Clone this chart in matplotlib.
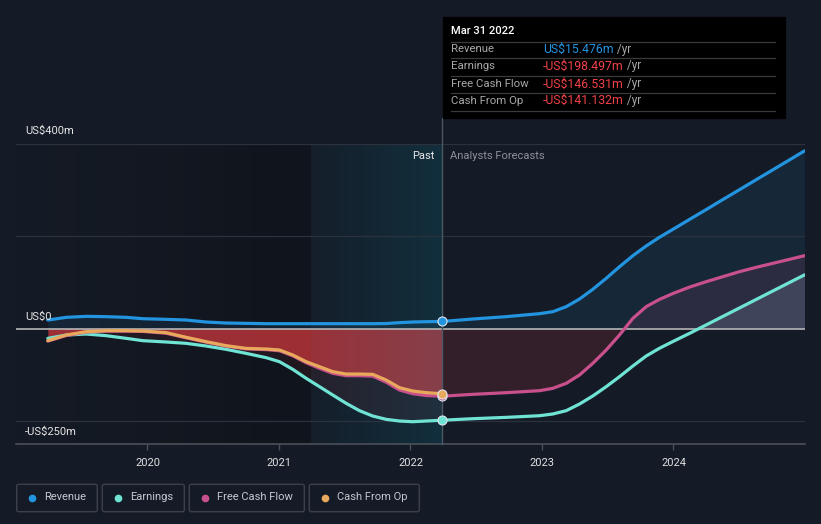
import numpy as np
import matplotlib.pyplot as plt
from matplotlib.colors import to_rgb
from matplotlib.patches import Rectangle, FancyBboxPatch

plt.rcParams['font.family'] = ['Roboto', 'DejaVu Sans']

# data (US$ m)
past_x = [2019.242, 2019.382, 2019.534, 2019.686, 2019.838, 2019.964, 2020.142, 2020.294,
          2020.446, 2020.598, 2020.750, 2020.903, 2021.004, 2021.105, 2021.207, 2021.308,
          2021.409, 2021.511, 2021.612, 2021.713, 2021.815, 2021.916, 2022.017, 2022.119,
          2022.24]
revenue_past = [18.6, 24.4, 26.6, 25.9, 24.4, 21.5, 20.1, 18.6,
                14.3, 12.1, 11.4, 10.7, 10.7, 10.7, 10.7, 10.7,
                10.7, 10.7, 10.7, 10.7, 11.0, 12.9, 14.3, 15.0,
                15.5]
earnings_past = [-21.1, -13.9, -11.7, -15.3, -21.1, -26.1, -29.0, -31.9,
                 -37.7, -44.9, -53.6, -63.0, -71.7, -88.3, -107.8, -125.8,
                 -143.9, -161.9, -177.8, -189.4, -196.6, -200.2, -201.7, -200.2,
                 -198.5]
cfo_past = [-26.1, -13.9, -6.6, -4.5, -4.5, -5.2, -8.8, -18.9,
            -28.3, -37.0, -42.8, -44.2, -46.4, -57.2, -71.7, -82.5,
            -93.3, -98.4, -98.4, -99.1, -111.4, -128.0, -135.2, -138.8,
            -141.1]
fcf_past = [-27.0, -15.0, -7.5, -5.5, -5.5, -6.0, -10.0, -20.0,
            -29.5, -38.0, -44.0, -45.5, -48.0, -59.0, -74.0, -86.0,
            -97.0, -102.0, -102.0, -103.0, -116.0, -133.0, -141.0, -145.0,
            -146.5]

fc_x = [2022.24, 2022.474, 2022.728, 2022.981, 2023.082, 2023.184, 2023.285, 2023.386,
        2023.488, 2023.589, 2023.691, 2023.792, 2023.894, 2023.995, 2024.122, 2024.249,
        2024.375, 2024.502, 2024.629, 2024.755, 2024.882, 2024.996]
revenue_fc = [15.5, 20.8, 25.9, 32.4, 36.7, 47.5, 64.1, 85.1,
              108.9, 134.0, 158.0, 179.0, 198.0, 215.0, 236.6, 258.0,
              279.6, 301.0, 322.7, 344.0, 365.6, 385.0]
earnings_fc = [-198.5, -195.2, -192.3, -188.7, -185.0, -177.8, -163.4, -146.0,
               -125.8, -104.2, -81.0, -59.4, -42.5, -28.0, -10.3, 8.1,
               26.4, 44.8, 63.2, 81.5, 99.9, 116.4]
fcf_fc = [-146.5, -142.4, -138.8, -134.5, -129.4, -118.6, -100.5, -75.3,
          -46.4, -13.9, 22.2, 47.5, 63.4, 76.0, 90.0, 101.7,
          112.5, 123.4, 132.8, 141.4, 150.1, 158.0]

series_names = ["Revenue", "Earnings", "Free Cash Flow", "Cash From Op"]
tip_values = ["US$15.476m", "-US$198.497m", "-US$146.531m", "-US$141.132m"]
year_ticks = [2020, 2021, 2022, 2023, 2024]

bg = '#151b26'
c_rev = '#2394df'
c_earn = '#6fe3d4'
c_fcf = '#c8508c'
c_cfo = '#e8a95c'
c_red = '#c0353b'
now = 2022.24

fig = plt.figure(figsize=(8.21, 5.24), dpi=100, facecolor=bg)
ax = fig.add_axes([16 / 821, 80 / 524, 789 / 821, 300 / 524])
ax.set_facecolor(bg)

# background shading of the past (opaque gradient, bg -> darker)
c0 = np.array(to_rgb(bg))
c1 = np.array(to_rgb('#10141c'))
w = np.linspace(0, 1, 295)[:, None]
dark = (c0 * (1 - w) + c1 * w)[None, :, :]
ax.imshow(dark, extent=[2019.0, 2021.24, -250, 400], aspect='auto', zorder=0,
          interpolation='nearest')

# fills
px = np.array(past_x)
fx = np.array(fc_x)
ax.fill_between(px, 0, cfo_past, color=c_red, alpha=0.8, lw=0, zorder=1)
ax.fill_between(px, cfo_past, earnings_past, color=c_red, alpha=0.1, lw=0, zorder=1)
ax.fill_between(px, 0, revenue_past, color=c_rev, alpha=0.1, lw=0, zorder=1)
ax.fill_between(fx, 0, revenue_fc, color=c_rev, alpha=0.1, lw=0, zorder=1)
fcf_arr = np.array(fcf_fc)
ax.fill_between(fx, 0, fcf_arr, where=fcf_arr <= 0, interpolate=True,
                color=c_red, alpha=0.18, lw=0, zorder=1)
ax.fill_between(fx, 0, fcf_arr, where=fcf_arr >= 0, interpolate=True,
                color=c_fcf, alpha=0.12, lw=0, zorder=1)
earn_arr = np.array(earnings_fc)
ax.fill_between(fx, 0, earn_arr, where=earn_arr >= 0, interpolate=True,
                color='#9ab8c8', alpha=0.18, lw=0, zorder=1)

# highlighted last year
hl = np.zeros((1, 132, 4))
hl[..., 1] = 0.63
hl[..., 2] = 0.75
hl[..., 3] = np.linspace(0.03, 0.15, 132)
ax.imshow(hl, extent=[2021.24, now, -250, 400], aspect='auto', zorder=2,
          interpolation='nearest')

# grid
for g in [400, 200, -200]:
    ax.axhline(g, color='#2c323d', lw=0.9, zorder=2)
ax.axhline(0, color='#b5b5b5', lw=1.2, zorder=3)
ax.axvline(now, ymin=0, ymax=(444 - 118) / 300, color='#4a5866', lw=1, zorder=3,
           clip_on=False)

# lines
kw = dict(lw=2.3, solid_capstyle='round', solid_joinstyle='round', zorder=4)
ax.plot(px, revenue_past, color=c_rev, **kw)
ax.plot(fx, revenue_fc, color=c_rev, **kw)
ax.plot(px, earnings_past, color=c_earn, **kw)
ax.plot(fx, earnings_fc, color=c_earn, **kw)
ax.plot(px, fcf_past, color=c_fcf, **kw)
ax.plot(fx, fcf_fc, color=c_fcf, **kw)
ax.plot(px, cfo_past, color=c_cfo, **kw)

mk = dict(marker='o', ms=6.5, mec='#dfe6ee', mew=0.8, zorder=6, ls='none')
ax.plot([now], [revenue_past[-1]], mfc=c_rev, **mk)
ax.plot([now], [earnings_past[-1]], mfc=c_earn, **mk)
ax.plot([now], [fcf_past[-1]], mfc=c_fcf, **mk)
ax.plot([now], [cfo_past[-1]], mfc=c_cfo, **mk)

ax.set_xlim(2019.0, 2025.0)
ax.set_ylim(-250, 400)
ax.set_yticks([])
ax.set_xticks(year_ticks)
ax.set_xticklabels([str(y) for y in year_ticks])
ax.tick_params(axis='x', colors='#4a4f5a', labelcolor='#e0e0e0', labelsize=8,
               length=4, width=1, pad=6)
for s in ['top', 'left', 'right']:
    ax.spines[s].set_visible(False)
ax.spines['bottom'].set_color('#4a4f5a')
ax.spines['bottom'].set_linewidth(1.2)

ax.text(now - 0.06, 373, "Past", color='#e8e8e8', fontsize=8, ha='right', va='center', zorder=7)
ax.text(now + 0.06, 373, "Analysts Forecasts", color='#8a8f98', fontsize=8, ha='left',
        va='center', zorder=7)

# overlay in pixel coordinates
ov = fig.add_axes([0, 0, 1, 1], zorder=5)
ov.set_xlim(0, 821)
ov.set_ylim(524, 0)
ov.axis('off')
ov.patch.set_alpha(0)

ov.text(25, 131, "US$400m", color='#e6e6e6', fontsize=8, va='center')
ov.text(25, 317, "US$0", color='#e6e6e6', fontsize=8, va='center')
ov.text(25, 432, "-US$250m", color='#e6e6e6', fontsize=8, va='center')

# tooltip
ov.add_patch(Rectangle((443, 17), 342, 101, color='#000000', zorder=1))
ov.text(451, 31, "Mar 31 2022", color='#ffffff', fontsize=8, fontweight='medium', va='center')
for yy in [41.7, 58.3, 76, 93.3, 111]:
    ov.plot([451, 775], [yy, yy], color='#3a3a3a', lw=0.9, zorder=2)
row_y = [49.3, 66, 84, 100.7]
val_colors = [c_rev, '#f0424a', '#f0424a', '#f0424a']
for name, val, yy, vc in zip(series_names, tip_values, row_y, val_colors):
    ov.text(451, yy, name, color='#a8a8a8', fontsize=8.2, va='center', zorder=3)
    t = ov.text(543, yy, val, color=vc, fontsize=8.8, va='center', zorder=3)
    ov.annotate(" /yr", xy=(1, 0.5), xycoords=t, color='#a8a8a8', fontsize=8.5,
                va='center', ha='left', zorder=3)

# legend
boxes = [(16.7, 97.3), (102.3, 184.3), (189.3, 304.3), (309.3, 419.3)]
leg_colors = [c_rev, c_earn, c_fcf, c_cfo]
for (x0, x1), name, col in zip(boxes, series_names, leg_colors):
    ov.add_patch(FancyBboxPatch((x0, 484.3), x1 - x0, 27.4,
                                boxstyle='round,pad=0,rounding_size=2',
                                fc=bg, ec='#3b404b', lw=1))
    ov.plot([x0 + 15.3], [497.5], 'o', ms=5.5, color=col, mew=0)
    ov.text(x0 + 27.6, 497.5, name, color='#c4c8cf', fontsize=8, va='center')

fig.savefig('out.png', dpi=100, facecolor=bg)
